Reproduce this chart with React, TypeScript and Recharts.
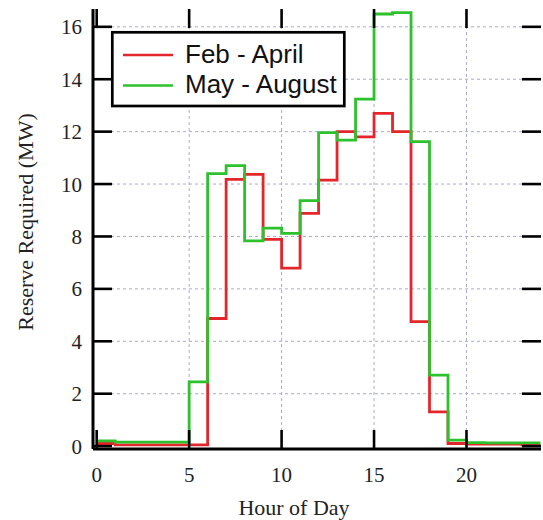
import React from 'react';
import { LineChart, Line, XAxis, YAxis, ReferenceLine, Legend } from 'recharts';

const HOURS = [0, 1, 2, 3, 4, 5, 6, 7, 8, 9, 10, 11, 12, 13, 14, 15, 16, 17, 18, 19, 20, 21, 22, 23, 24];
const FEB_APRIL = [0.1, 0.05, 0.05, 0.05, 0.05, 0.05, 4.87, 10.18, 10.37, 7.89, 6.79, 8.88, 10.15, 12.0, 11.8, 12.7, 12.0, 4.75, 1.31, 0.1, 0.08, 0.08, 0.08, 0.05, 0.05];
const MAY_AUGUST = [0.2, 0.15, 0.15, 0.15, 0.15, 2.45, 10.4, 10.7, 7.83, 8.32, 8.12, 9.37, 11.96, 11.68, 13.24, 16.49, 16.54, 11.62, 2.71, 0.23, 0.13, 0.12, 0.12, 0.12, 0.12];

const X_TICKS = [0, 5, 10, 15, 20];
const Y_TICKS = [0, 2, 4, 6, 8, 10, 12, 14, 16];
const X_GRID = [5, 10, 15, 20];
const Y_GRID = [2, 4, 6, 8, 10, 12, 14, 16];

const SERIES = [
  { key: 'febApril', name: 'Feb - April', color: '#e3262b' },
  { key: 'mayAugust', name: 'May - August', color: '#2ec12e' },
];

const X_DOMAIN: [number, number] = [-0.2, 24.03];
const Y_DOMAIN: [number, number] = [-0.11, 16.68];

const W = 543;
const H = 520;
const PLOT_LEFT = 93;
const PLOT_TOP = 9;
const PLOT_RIGHT = 541;
const PLOT_BOTTOM = 449;
const TICK_LEN = 19;
const SERIF = '"Liberation Serif", "Times New Roman", serif';
const SANS = '"Liberation Sans", Arial, sans-serif';

const data = HOURS.map((h, i) => ({ hour: h, febApril: FEB_APRIL[i], mayAugust: MAY_AUGUST[i] }));

const XTick = (p: any) => {
  const { x, payload } = p;
  return (
    <g>
      <line x1={x} x2={x} y1={PLOT_BOTTOM} y2={PLOT_BOTTOM - TICK_LEN} stroke="#000" strokeWidth={2.6} />
      <line x1={x} x2={x} y1={PLOT_TOP} y2={PLOT_TOP + TICK_LEN} stroke="#000" strokeWidth={2.6} />
      <text x={x} y={PLOT_BOTTOM + 33} textAnchor="middle" fontFamily={SERIF} fontSize={21} fill="#222">
        {payload.value}
      </text>
    </g>
  );
};

const YTick = (p: any) => {
  const { y, payload } = p;
  return (
    <g>
      <line x1={PLOT_LEFT} x2={PLOT_LEFT + TICK_LEN} y1={y} y2={y} stroke="#000" strokeWidth={2.6} />
      <line x1={PLOT_RIGHT - TICK_LEN} x2={PLOT_RIGHT} y1={y} y2={y} stroke="#000" strokeWidth={2.6} />
      <text x={PLOT_LEFT - 11} y={y + 7.5} textAnchor="end" fontFamily={SERIF} fontSize={21} fill="#222">
        {payload.value}
      </text>
    </g>
  );
};

const LegendBox = () => (
  <svg width={236} height={78} style={{ display: 'block' }}>
    <rect x={2.3} y={2.3} width={232} height={73.7} fill="#fff" stroke="#000" strokeWidth={2.7} />
    {SERIES.map((s, i) => (
      <g key={s.key}>
        <line x1={13} x2={63} y1={25 + i * 30.5} y2={25 + i * 30.5} stroke={s.color} strokeWidth={2.6} />
        <text x={75} y={33.3 + i * 30} fontFamily={SANS} fontSize={26} fill="#111">
          {s.name}
        </text>
      </g>
    ))}
  </svg>
);

export default function App() {
  return (
    <div style={{ position: 'absolute', left: 0, top: 0, width: W, height: H, background: '#fff' }}>
      <LineChart width={W} height={H} data={data} margin={{ top: PLOT_TOP, right: W - PLOT_RIGHT, left: 0, bottom: 0 }}>
        {X_GRID.map((v) => (
          <ReferenceLine key={'gx' + v} x={v} stroke="#a9a9d2" strokeDasharray="3 3" strokeWidth={1} />
        ))}
        {Y_GRID.map((v) => (
          <ReferenceLine key={'gy' + v} y={v} stroke="#a9a9d2" strokeDasharray="3 3" strokeWidth={1} />
        ))}
        <XAxis
          dataKey="hour"
          type="number"
          domain={X_DOMAIN}
          allowDataOverflow
          ticks={X_TICKS}
          interval={0}
          tickSize={0}
          tickMargin={0}
          height={H - PLOT_BOTTOM}
          axisLine={{ stroke: '#000', strokeWidth: 3 }}
          tickLine={false}
          tick={(p: any) => <XTick {...p} />}
          label={(props: any) => (
            <text x={294} y={515} textAnchor="middle" fontFamily={SERIF} fontSize={22} fill="#222">
              Hour of Day
            </text>
          )}
        />
        <XAxis
          xAxisId="top"
          orientation="top"
          type="number"
          domain={X_DOMAIN}
          allowDataOverflow
          height={0}
          tick={false}
          tickLine={false}
          axisLine={{ stroke: '#000', strokeWidth: 3 }}
        />
        <YAxis
          type="number"
          domain={Y_DOMAIN}
          allowDataOverflow
          ticks={Y_TICKS}
          interval={0}
          width={PLOT_LEFT}
          tickSize={0}
          tickMargin={0}
          axisLine={{ stroke: '#000', strokeWidth: 3 }}
          tickLine={false}
          tick={(p: any) => <YTick {...p} />}
          label={(props: any) => (
            <text
              x={33}
              y={222}
              transform="rotate(-90 33 222)"
              textAnchor="middle"
              fontFamily={SERIF}
              fontSize={22}
              fill="#222"
            >
              Reserve Required (MW)
            </text>
          )}
        />
        <YAxis
          yAxisId="right"
          orientation="right"
          type="number"
          domain={Y_DOMAIN}
          allowDataOverflow
          width={0}
          tick={false}
          tickLine={false}
          axisLine={{ stroke: '#000', strokeWidth: 3 }}
        />
        <Legend
          verticalAlign="middle"
          content={() => <LegendBox />}
          wrapperStyle={{ position: 'absolute', left: 110, top: 30, width: 236, height: 78 }}
        />
        {SERIES.map((s) => (
          <Line
            key={s.key}
            dataKey={s.key}
            name={s.name}
            type="stepAfter"
            stroke={s.color}
            strokeWidth={2.8}
            dot={false}
            activeDot={false}
            isAnimationActive={false}
          />
        ))}
      </LineChart>
    </div>
  );
}
